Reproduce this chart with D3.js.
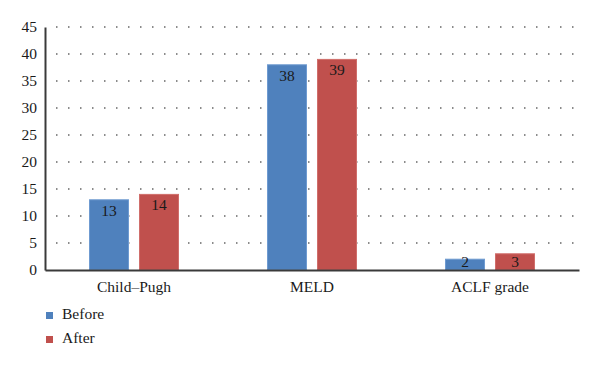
<!DOCTYPE html>
<html>
<head>
<meta charset="utf-8">
<script src="https://cdn.jsdelivr.net/npm/d3@7"></script>
<style>
  html, body { margin: 0; padding: 0; background: #fff; }
  svg { display: block; }
  text { font-family: "Liberation Serif", "DejaVu Serif", serif; fill: #1a1a1a; }
</style>
</head>
<body>
<svg id="chart" width="600" height="365"></svg>
<script>
const categories = ["Child\u2013Pugh", "MELD", "ACLF grade"];
const seriesNames = ["Before", "After"];
const beforeValues = [13, 38, 2];
const afterValues = [14, 39, 3];
const yTicks = [0, 5, 10, 15, 20, 25, 30, 35, 40, 45];
const colors = ["#4F81BD", "#C0504D"];
const strokes = ["#6F9BD1", "#D06E6B"];

const series = [beforeValues, afterValues];

const svg = d3.select("#chart");
const mLeft = 45, mRight = 579, mTop = 27, mBottom = 270;

const x = d3.scaleBand().domain(categories).range([mLeft, mRight]).paddingInner(0).paddingOuter(0);
const xs = d3.scaleBand().domain(seriesNames).range([0, x.bandwidth()]).paddingInner(0.22).paddingOuter(0.89);
const y = d3.scaleLinear().domain([0, 45]).range([mBottom, mTop]);

// gridlines
svg.append("g").selectAll("line")
  .data(yTicks.filter(t => t > 0))
  .join("line")
  .attr("x1", mLeft + 1).attr("x2", mRight - 2)
  .attr("y1", d => y(d)).attr("y2", d => y(d))
  .attr("stroke", "#666")
  .attr("stroke-width", 1.5)
  .attr("stroke-dasharray", "1.5,10.5")
  .attr("stroke-dashoffset", -10);

// bars
const groups = svg.append("g").selectAll("g")
  .data(seriesNames)
  .join("g");

groups.each(function(name, si) {
  const g = d3.select(this);
  const vals = series[si];
  g.selectAll("rect")
    .data(vals)
    .join("rect")
    .attr("x", (d, i) => x(categories[i]) + xs(name))
    .attr("y", d => y(d))
    .attr("width", xs.bandwidth())
    .attr("height", d => y(0) - y(d))
    .attr("fill", colors[si])
    .attr("stroke", strokes[si])
    .attr("stroke-width", 1);
  g.selectAll("text")
    .data(vals)
    .join("text")
    .attr("x", (d, i) => x(categories[i]) + xs(name) + xs.bandwidth() / 2)
    .attr("y", d => Math.min(y(d) + 16, y(0) - 3))
    .attr("text-anchor", "middle")
    .attr("font-size", 15.5)
    .text(d => d);
});

// y axis
const yAxis = d3.axisLeft(y).tickValues(yTicks).tickSize(0).tickPadding(8);
const ya = svg.append("g").attr("transform", `translate(${mLeft},0)`).call(yAxis);
ya.select(".domain").attr("stroke", "#3a3a3a").attr("stroke-width", 2);
ya.selectAll("text").attr("font-size", 15.5).attr("font-family", "Liberation Serif, serif").attr("fill", "#111");

// x axis
const xAxis = d3.axisBottom(x).tickSize(0).tickPadding(11);
const xa = svg.append("g").attr("transform", `translate(0,${mBottom})`).call(xAxis);
xa.select(".domain").attr("stroke", "#3a3a3a").attr("stroke-width", 2);
xa.selectAll("text").attr("font-size", 15.5).attr("font-family", "Liberation Serif, serif").attr("fill", "#111");

// legend
const legend = svg.append("g").selectAll("g")
  .data(seriesNames)
  .join("g")
  .attr("transform", (d, i) => `translate(46,${312 + i * 24})`);
legend.append("rect").attr("width", 7).attr("height", 7).attr("fill", (d, i) => colors[i]);
legend.append("text").attr("x", 16).attr("y", 7).attr("font-size", 15.5).text(d => d);
</script>
</body>
</html>
